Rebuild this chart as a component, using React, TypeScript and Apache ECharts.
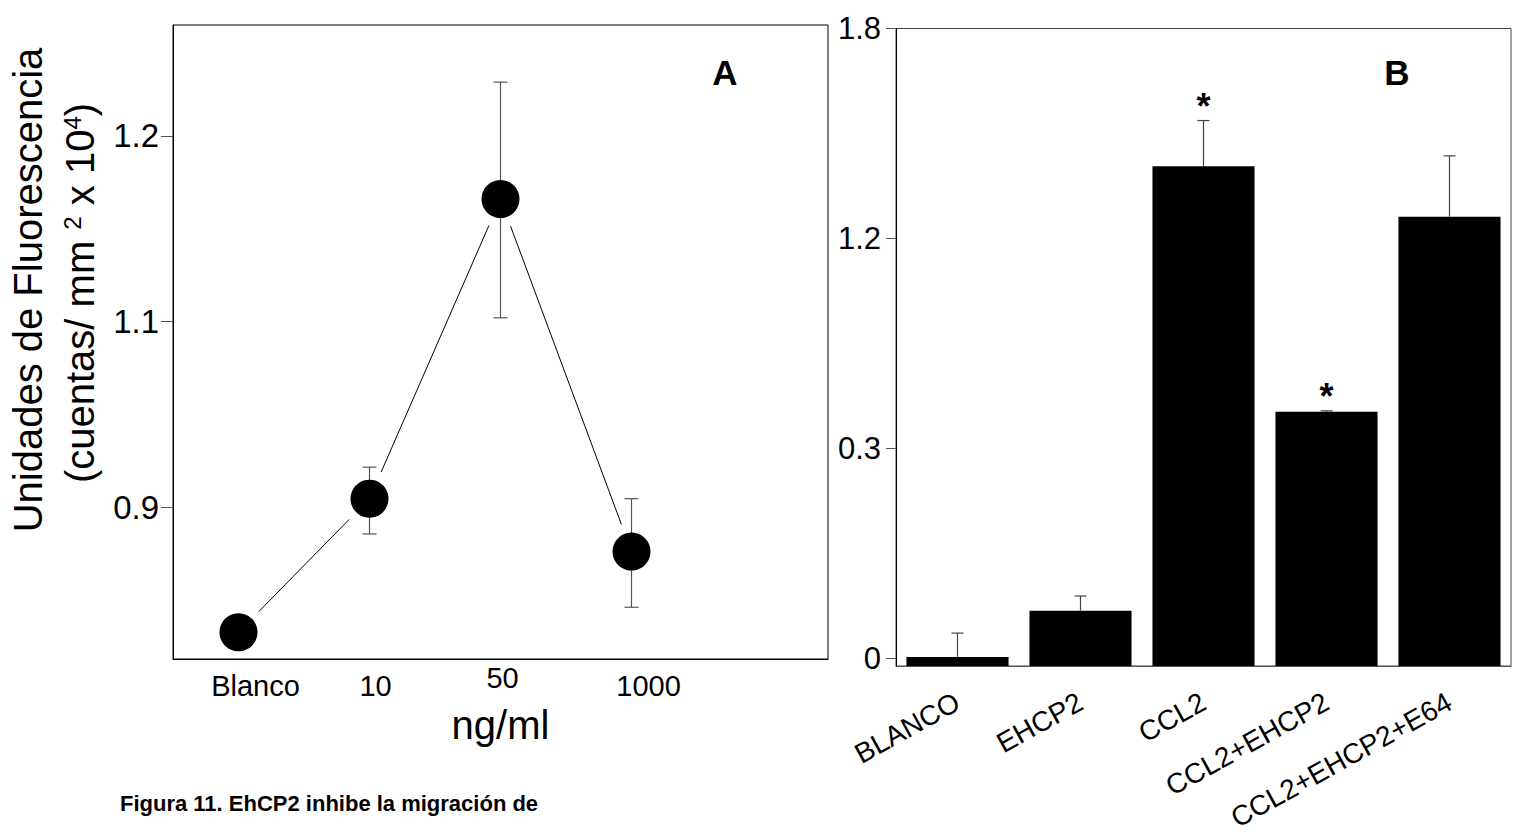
import React, { useEffect, useRef } from 'react';
import * as echarts from 'echarts';

// ---------- Panel A data (read in axis label units) ----------
const A_CATEGORIES = ['Blanco', '10', '50', '1000'];
const A_MEAN = [0.765, 0.909, 1.166, 0.852];
const A_LOW = [0.757, 0.871, 1.102, 0.792];
const A_HIGH = [0.773, 0.943, 1.229, 0.909];
const A_TICKS = [0.9, 1.1, 1.2];

// ---------- Panel B data ----------
const B_CATEGORIES = ['BLANCO', 'EHCP2', 'CCL2', 'CCL2+EHCP2', 'CCL2+EHCP2+E64'];
const B_MEAN = [0.002, 0.068, 1.406, 0.457, 1.262];
const B_HIGH = [0.036, 0.089, 1.537, 0.461, 1.436];
const B_SIGNIF = [false, false, true, true, false];
const B_TICKS = [0, 0.3, 1.2, 1.8];

// The original axes have evenly spaced, non-linear tick labels:
// map a value piecewise-linearly onto tick-index positions.
function toPos(v: number, ticks: number[]): number {
  const n = ticks.length;
  let i = 0;
  if (v <= ticks[0]) i = 0;
  else if (v >= ticks[n - 1]) i = n - 2;
  else {
    while (i < n - 2 && v >= ticks[i + 1]) i++;
  }
  return i + (v - ticks[i]) / (ticks[i + 1] - ticks[i]);
}

const FONT = "'Liberation Sans', Arial, sans-serif";

export default function App() {
  const ref = useRef<HTMLDivElement>(null);

  useEffect(() => {
    const chart = echarts.init(ref.current!, null, { renderer: 'svg' });

    const aPoints = A_MEAN.map((v, i) => [i, toPos(v, A_TICKS)]);
    const aErr = A_MEAN.map((_, i) => [i, toPos(A_LOW[i], A_TICKS), toPos(A_HIGH[i], A_TICKS)]);
    const aLinks = aPoints.slice(0, -1).map((p, i) => [p[0], p[1], aPoints[i + 1][0], aPoints[i + 1][1]]);

    const bBars = B_MEAN.map((v) => toPos(v, B_TICKS));
    const bErr = B_MEAN.map((v, i) => [i, toPos(v, B_TICKS), toPos(B_HIGH[i], B_TICKS), B_SIGNIF[i] ? 1 : 0]);

    const bMin = -0.0367;

    // per-label nudges of panel A's x labels (as in the original)
    const aLabelRich: any = {
      l0: { padding: [8, 0, 0, 34], fontSize: 29, fontFamily: FONT },
      l1: { padding: [8, 0, 0, 12], fontSize: 29, fontFamily: FONT },
      l2: { padding: [0, 0, 0, 4], fontSize: 29, fontFamily: FONT },
      l3: { padding: [8, 0, 0, 34], fontSize: 29, fontFamily: FONT },
    };

    const option: any = {
      animation: false,
      backgroundColor: '#fff',
      textStyle: { fontFamily: FONT, color: '#000' },
      grid: [
        { left: 173, top: 25, width: 655, height: 634, show: true, borderColor: '#000', borderWidth: 1, backgroundColor: 'transparent' },
        { left: 896, top: 28.5, width: 615, height: 637.5, show: true, borderColor: '#444', borderWidth: 1, backgroundColor: 'transparent' },
      ],
      xAxis: [
        {
          type: 'value', gridIndex: 0, min: -0.5, max: 4.5,
          axisLine: { show: true, onZero: false, lineStyle: { color: '#000', width: 1 } },
          axisTick: { show: false },
          splitLine: { show: false },
          axisLabel: {
            customValues: [0, 1, 2, 3],
            formatter: (v: number) => {
              const k = Math.round(v);
              return A_CATEGORIES[k] !== undefined ? `{l${k}|${A_CATEGORIES[k]}}` : '';
            },
            rich: aLabelRich,
            fontSize: 29, color: '#000', margin: 4, fontFamily: FONT,
          },
          name: 'ng/ml', nameLocation: 'middle', nameGap: 46,
          nameTextStyle: { fontSize: 40, color: '#000', fontFamily: FONT },
        },
        {
          type: 'category', gridIndex: 1, data: B_CATEGORIES, boundaryGap: true,
          axisLine: { show: true, onZero: false, lineStyle: { color: '#555', width: 1 } },
          axisTick: { show: false },
          splitLine: { show: false },
          axisLabel: { interval: 0, rotate: 29, fontSize: 28, color: '#000', margin: 34, fontFamily: FONT },
        },
      ],
      yAxis: [
        {
          type: 'value', gridIndex: 0, min: -0.819, max: 2.598,
          axisLine: { show: true, onZero: false, lineStyle: { color: '#000', width: 1 } },
          axisTick: { show: true, length: 12, customValues: [0, 1, 2], lineStyle: { color: '#555' } },
          splitLine: { show: false },
          axisLabel: {
            customValues: [0, 1, 2],
            formatter: (v: number) => String(A_TICKS[Math.round(v)]),
            fontSize: 33, color: '#000', margin: 14, fontFamily: FONT,
          },
        },
        {
          type: 'value', gridIndex: 1, min: bMin, max: 3, startValue: bMin,
          axisLine: { show: true, onZero: false, lineStyle: { color: '#000', width: 1 } },
          axisTick: { show: true, length: 10, customValues: [0, 1, 2, 3], lineStyle: { color: '#555' } },
          splitLine: { show: false },
          axisLabel: {
            customValues: [0, 1, 2, 3],
            formatter: (v: number) => String(B_TICKS[Math.round(v)]),
            fontSize: 31, color: '#000', margin: 15, fontFamily: FONT,
          },
        },
      ],
      series: [
        {
          type: 'custom', xAxisIndex: 0, yAxisIndex: 0, data: aLinks, z: 2,
          renderItem: (_p: any, api: any) => {
            const p0 = api.coord([api.value(0), api.value(1)]);
            const p1 = api.coord([api.value(2), api.value(3)]);
            const dx = p1[0] - p0[0];
            const dy = p1[1] - p0[1];
            const len = Math.hypot(dx, dy) || 1;
            const ux = dx / len, uy = dy / len;
            const g = 29;
            return {
              type: 'line',
              shape: { x1: p0[0] + ux * g, y1: p0[1] + uy * g, x2: p1[0] - ux * g, y2: p1[1] - uy * g },
              style: { stroke: '#000', lineWidth: 1 },
            };
          },
        },
        {
          type: 'custom', xAxisIndex: 0, yAxisIndex: 0, data: aErr, z: 3,
          renderItem: (_p: any, api: any) => {
            const x = api.value(0);
            const lo = api.coord([x, api.value(1)]);
            const hi = api.coord([x, api.value(2)]);
            const w = 7;
            const st = { stroke: '#555', lineWidth: 1.2 };
            return {
              type: 'group',
              children: [
                { type: 'line', shape: { x1: lo[0], y1: lo[1], x2: hi[0], y2: hi[1] }, style: st },
                { type: 'line', shape: { x1: lo[0] - w, y1: lo[1], x2: lo[0] + w, y2: lo[1] }, style: st },
                { type: 'line', shape: { x1: hi[0] - w, y1: hi[1], x2: hi[0] + w, y2: hi[1] }, style: st },
              ],
            };
          },
        },
        {
          type: 'scatter', xAxisIndex: 0, yAxisIndex: 0, data: aPoints, z: 5,
          symbol: 'circle', symbolSize: 38, itemStyle: { color: '#000', opacity: 1 },
        },
        {
          type: 'bar', xAxisIndex: 1, yAxisIndex: 1, data: bBars, z: 2,
          barCategoryGap: '17%', itemStyle: { color: '#000' },
        },
        {
          type: 'custom', xAxisIndex: 1, yAxisIndex: 1, data: bErr, z: 3,
          renderItem: (_p: any, api: any) => {
            const i = api.value(0);
            const base = api.coord([i, api.value(1)]);
            const top = api.coord([i, api.value(2)]);
            const w = 6;
            const st = { stroke: '#444', lineWidth: 1.2 };
            const children: any[] = [
              { type: 'line', shape: { x1: base[0], y1: base[1], x2: top[0], y2: top[1] }, style: st },
              { type: 'line', shape: { x1: top[0] - w, y1: top[1], x2: top[0] + w, y2: top[1] }, style: st },
            ];
            if (api.value(3) === 1) {
              children.push({
                type: 'text', x: top[0], y: top[1] - 14,
                style: {
                  text: '*', fontSize: 36, fontWeight: 'bold', fontFamily: FONT, fill: '#000',
                  align: 'center', verticalAlign: 'middle', textAlign: 'center', textVerticalAlign: 'middle',
                },
              });
            }
            return { type: 'group', children };
          },
        },
      ],
      graphic: [
        {
          type: 'text', x: 28, y: 290, rotation: Math.PI / 2,
          style: {
            text: 'Unidades de Fluorescencia', fontSize: 40, fontFamily: FONT, fill: '#000',
            textAlign: 'center', textVerticalAlign: 'middle',
          },
        },
        {
          type: 'text', x: 80, y: 293, rotation: Math.PI / 2,
          style: {
            text: '(cuentas/ mm {s|2} x 10{s|4})', fontSize: 40, fontFamily: FONT, fill: '#000',
            textAlign: 'center', textVerticalAlign: 'middle',
            rich: { s: { fontSize: 24, fontFamily: FONT, verticalAlign: 'top', fill: '#000' } },
          },
        },
        {
          type: 'text', x: 725, y: 72,
          style: { text: 'A', fontSize: 35, fontWeight: 'bold', fontFamily: FONT, fill: '#000', textAlign: 'center', textVerticalAlign: 'middle' },
        },
        {
          type: 'text', x: 1397, y: 72,
          style: { text: 'B', fontSize: 35, fontWeight: 'bold', fontFamily: FONT, fill: '#000', textAlign: 'center', textVerticalAlign: 'middle' },
        },
        {
          type: 'text', x: 120, y: 803,
          style: {
            text: 'Figura 11. EhCP2 inhibe la migración de', fontSize: 22, fontWeight: 'bold', fontFamily: FONT,
            fill: '#000', textAlign: 'left', textVerticalAlign: 'middle',
          },
        },
      ],
    };

    chart.setOption(option);
    return () => chart.dispose();
  }, []);

  return (
    <div
      ref={ref}
      style={{ position: 'fixed', left: 0, top: 0, width: 1518, height: 838, background: '#fff' }}
    />
  );
}
